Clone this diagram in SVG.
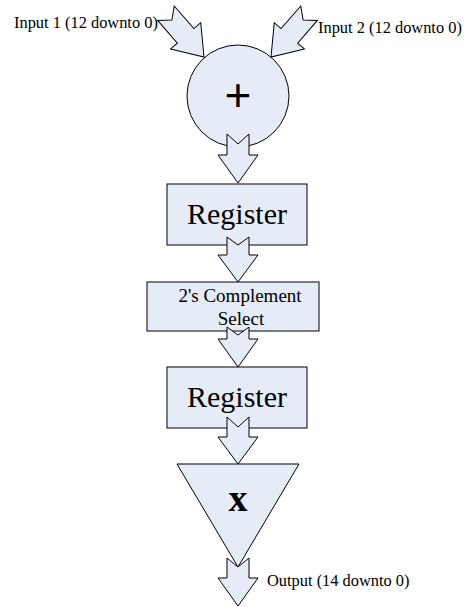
<svg xmlns="http://www.w3.org/2000/svg" width="470" height="607" viewBox="0 0 470 607">
<style>
.shape{fill:#E6ECF7;stroke:#000;stroke-width:1}
.arrow{fill:#E6ECF7;stroke:#000;stroke-width:1;stroke-linejoin:miter}
.lbl{font-family:"Liberation Serif","Times New Roman",serif;font-size:16.4px;fill:#000}
.big{font-family:"Liberation Serif","Times New Roman",serif;font-size:30px;fill:#000;text-anchor:middle}
.mid{font-family:"Liberation Serif","Times New Roman",serif;font-size:19px;fill:#000;text-anchor:middle}
</style>
<defs>
<polygon id="inArrow" points="-11,-58 0,-49 11,-58 11,-28 20,-28 0,0 -20,-28 -11,-28"/>
</defs>
<rect width="470" height="607" fill="#fff"/>
<g id="adder">
<circle class="shape" cx="238" cy="96" r="51"/>
<text x="238" y="111" font-family="Liberation Sans, Arial, sans-serif" font-size="46" text-anchor="middle">+</text>
</g>
<g id="register1">
<rect class="shape" x="167" y="184" width="140" height="61"/>
<text class="big" x="237" y="224">Register</text>
</g>
<g id="complement">
<rect class="shape" x="147" y="282" width="172" height="49"/>
<text class="mid" x="240" y="302">2's Complement</text>
<text class="mid" x="241" y="325">Select</text>
</g>
<g id="register2">
<rect class="shape" x="167" y="367" width="140" height="61"/>
<text class="big" x="237" y="407">Register</text>
</g>
<g id="multiplier">
<polygon class="shape" points="177,464 299,464 238,567"/>
<text x="238" y="511" font-family="Liberation Serif, Times New Roman, serif" font-size="38" font-weight="bold" text-anchor="middle">x</text>
</g>
<g id="labels">
<text class="lbl" x="14" y="28">Input 1 (12 downto 0)</text>
<text class="lbl" x="318" y="33">Input 2 (12 downto 0)</text>
<text class="lbl" x="267" y="586">Output (14 downto 0)</text>
</g>
<g id="connectors">
<use href="#inArrow" class="arrow" transform="translate(204,57) rotate(-41)"/>
<use href="#inArrow" class="arrow" transform="translate(271,57) rotate(41)"/>
<polygon class="arrow" points="227,134 238,144 249,134 249,155 258,155 238,183 218,155 227,155"/>
<polygon class="arrow" points="227,237 238,245 249,237 249,255 258,255 238,282 218,255 227,255"/>
<polygon class="arrow" points="227,327 238,335 249,327 249,339 258,339 238,367 218,339 227,339"/>
<polygon class="arrow" points="227,417 238,427 249,417 249,437 258,437 238,464 218,437 227,437"/>
<polygon class="arrow" points="227,558 238,567 249,558 249,578 258,578 238,606 218,578 227,578"/>
</g>
</svg>
